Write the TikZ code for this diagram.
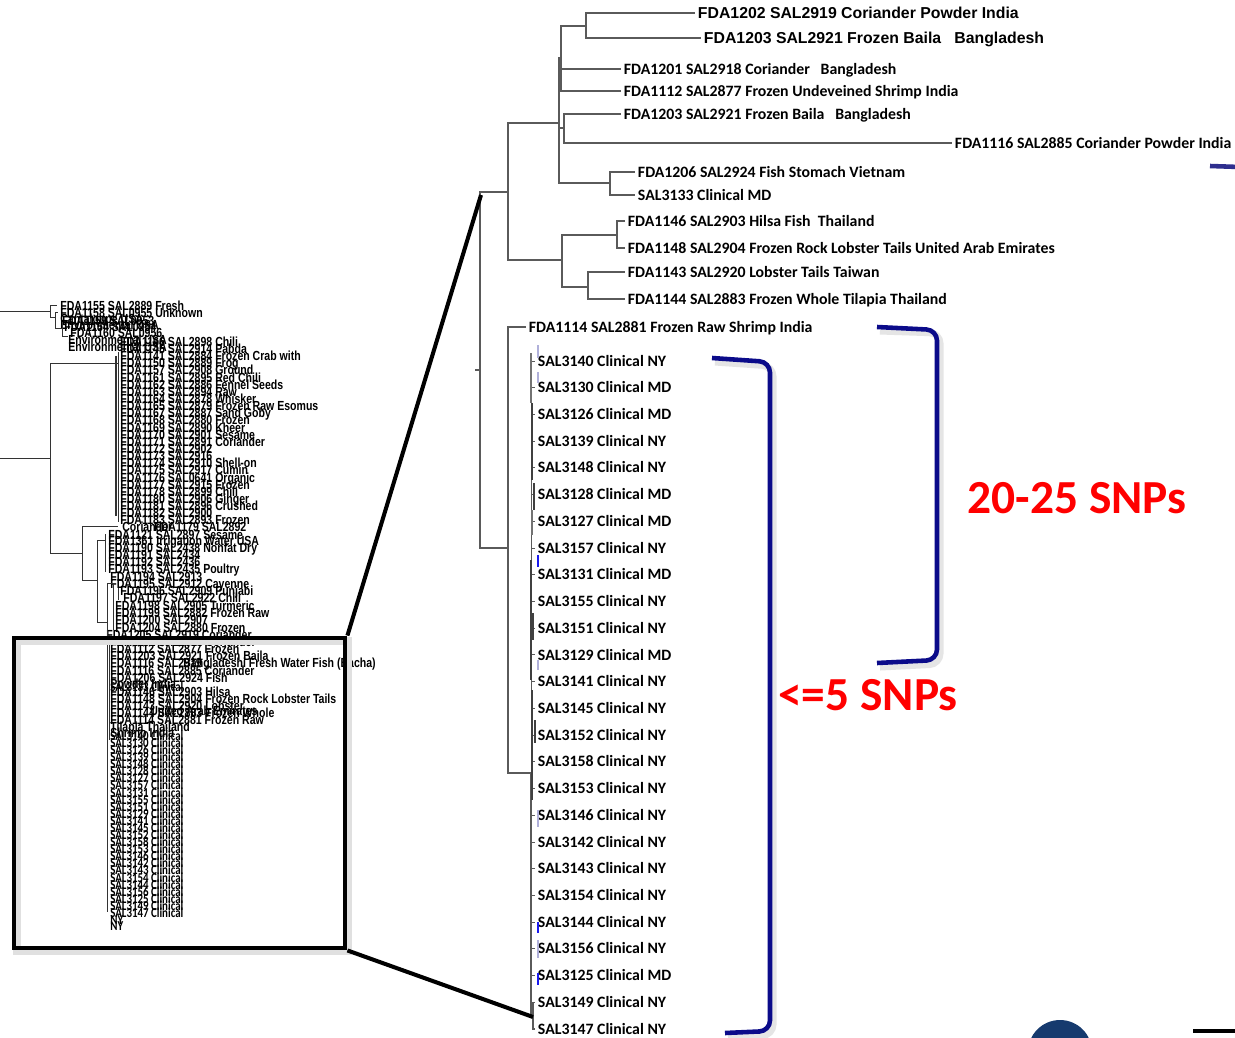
\documentclass[tikz,border=0pt]{standalone}
\usepackage{fontspec}
\setmainfont{Carlito}
\newfontfamily\arialfont{Liberation Sans}
\usepackage{xcolor}
\usepackage{tikz}
\usetikzlibrary{positioning,calc}
\definecolor{braceNavy}{HTML}{0B0B8A}
\definecolor{treeGray}{HTML}{5A5A5A}
\definecolor{tickBlue}{HTML}{1A1AF0}
\definecolor{tickPale}{HTML}{B0B0DA}
\definecolor{dotNavy}{HTML}{163A6E}
\definecolor{barNavy}{HTML}{2E2E8E}

\newcommand{\clinlist}{SAL3140/NY, SAL3130/MD, SAL3126/MD, SAL3139/NY, SAL3148/NY,
  SAL3128/MD, SAL3127/MD, SAL3157/NY, SAL3131/MD, SAL3155/NY, SAL3151/NY,
  SAL3129/MD, SAL3141/NY, SAL3145/NY, SAL3152/NY, SAL3158/NY, SAL3153/NY,
  SAL3146/NY, SAL3142/NY, SAL3143/NY, SAL3154/NY, SAL3144/NY, SAL3156/NY,
  SAL3125/MD, SAL3149/NY, SAL3147/NY}

\newcommand{\minilist}{%
  60/306/FDA1155 SAL2889 Fresh, 60/313/FDA1158 SAL0955 Unknown,
  60/319/Cantaloupe USA, 62/321/FDA1159 SAL0953, 60/325/Environmental USA,
  64/327/FDA1154 SAL0954, 70/333/FDA1160 SAL0956, 68/340/Environmental USA,
  120/342/FDA1166 SAL2898 Chili, 68/347/Environmental USA,
  120/349/FDA1145 SAL2914 Pabda, 120/356/FDA1141 SAL2884 Frozen Crab with,
  120/363/FDA1150 SAL2889 Frog, 120/370/FDA1157 SAL2908 Ground,
  120/378/FDA1161 SAL2895 Red Chili, 120/385/FDA1162 SAL2886 Fennel Seeds,
  120/392/FDA1163 SAL2894 Raw, 120/399/FDA1164 SAL2878 Whisker,
  120/406/FDA1165 SAL2879 Frozen Raw Esomus, 120/413/FDA1167 SAL2887 Sand Goby,
  120/420/FDA1168 SAL2880 Frozen, 120/428/FDA1169 SAL2890 Kheer,
  120/435/FDA1170 SAL2901 Sesame, 120/442/FDA1171 SAL2891 Coriander,
  120/449/FDA1172 SAL2902, 120/456/FDA1173 SAL2916,
  120/463/FDA1174 SAL2910 Shell-on, 120/470/FDA1175 SAL2917 Cumin,
  120/478/FDA1176 SAL0641 Organic, 120/485/FDA1177 SAL2915 Frozen,
  120/492/FDA1178 SAL2899 Chili, 120/499/FDA1180 SAL2906 Ginger,
  120/506/FDA1181 SAL2896 Crushed, 120/513/FDA1182 SAL2900,
  120/520/FDA1183 SAL2893 Frozen, 122/527/Coriander, 154/527/FDA1179 SAL2892,
  108/535/FDA1121 SAL2897 Sesame, 108/541/FDA1361 Irrigation Water USA,
  108/548/FDA1190 SAL2438 Nonfat Dry, 108/555/FDA1191 SAL2434,
  108/562/FDA1192 SAL2436, 108/569/FDA1193 SAL2435 Poultry,
  110/577/FDA1194 SAL2913, 110/584/FDA1195 SAL2912 Cayenne,
  120/591/FDA1196 SAL2909 Punjabi, 123/598/FDA1197 SAL2922 Chili,
  115/606/FDA1198 SAL2905 Turmeric, 115/613/FDA1199 SAL2882 Frozen Raw,
  115/620/FDA1200 SAL2907, 115/628/FDA1204 SAL2880 Frozen,
  106/635/FDA1205 SAL2919 Coriander, 110/642/FDA1201 SAL2918 Coriander,
  110/649/FDA1112 SAL2877 Frozen, 110/656/FDA1203 SAL2921 Frozen Baila,
  110/663/FDA1116 SAL2919, 183/663/Bangladeshi Fresh Water Fish (Bacha),
  110/671/FDA1116 SAL2885 Coriander, 110/678/FDA1206 SAL2924 Fish,
  110/684/Powder India, 110/692/FDA1146 SAL2903 Hilsa,
  110/699/FDA1148 SAL2904 Frozen Rock Lobster Tails,
  110/706/FDA1143 SAL2920 Lobster, 150/711/United Arab Emirates,
  110/713/FDA1144 SAL2883 Frozen Whole, 110/720/FDA1114 SAL2881 Frozen Raw,
  110/727/Tilapia Thailand, 110/733/Shrimp India}

\begin{document}
\begin{tikzpicture}[
  x=0.02cm, y=-0.02cm,
  leaf/.style={anchor=west, inner xsep=1.5pt, inner ysep=0pt, text height=5.8pt,
    text depth=0pt, font=\fontsize{9}{10}\selectfont\bfseries},
  arleaf/.style={leaf, text height=6.4pt, font=\arialfont\fontsize{9}{10}\selectfont\bfseries},
  mini/.style={anchor=west, inner sep=0pt, text height=5.4pt, text depth=0pt,
    font=\arialfont\fontsize{6}{6}\selectfont\bfseries},
  miniclin/.style={anchor=west, inner sep=0pt, text height=5pt, text depth=0pt,
    font=\fontsize{6.2}{6}\selectfont\bfseries},
  br/.style={draw=treeGray, line width=0.75pt},
  mline/.style={draw=black!80, line width=0.5pt},
  brace/.style={draw=braceNavy, line width=2.6pt, rounded corners=6pt},
  braceshadow/.style={draw=black!10, line width=4pt, rounded corners=6pt},
  snp/.style={text=red, inner sep=0pt, font=\fontsize{27}{30}\selectfont\bfseries},
  zoombox/.style={draw=black, line width=2.8pt, minimum width=6.62cm,
    minimum height=6.2cm, inner sep=0pt},
  zoomline/.style={draw=black, line width=2.3pt}
]
\useasboundingbox (0,0) rectangle (1235,1038);
\fill[white] (0,0) rectangle (1235,1038);

% thumbnail of the whole tree
\foreach \mx/\my/\mtext [count=\i] in \minilist
  \node[mini] (m\i) at (\mx,\my) {\scalebox{1}[1.25]{\mtext}};
\node[miniclin] (mclin) at (110,687) {\scalebox{1}[1.25]{SAL3133 Clinical}};
\foreach \s/\st [count=\i] in \clinlist
  \node[miniclin] (mc\i) at (110,{736+7.08*(\i-1)}) {\scalebox{1}[1.25]{\s\ Clinical}};
\node[miniclin] (mny1) at (110,920) {\scalebox{1}[1.25]{NY}};
\node[miniclin] (mny2) at (110,926) {\scalebox{1}[1.25]{NY}};

\draw[mline] (0,311) -- (50,311) (50,305) -- (50,317) (50,305) -- (57,305)
  (50,317) -- (55,317) (55,312) -- (55,328) (55,312) -- (58,312)
  (55,328) -- (62,328) (62,322) -- (62,336) (62,336) -- (68,336);
\draw[mline] (0,458) -- (50,458) (50,363) -- (50,553) (50,363) -- (118,363)
  (50,553) -- (82,553);
\draw[mline] (118,352) -- (118,522);
\draw[mline, line width=0.8pt] (116,356) -- (116,516);
\draw[mline] (82,526) -- (82,580) (82,526) -- (118,526) (82,580) -- (97,580);
\draw[mline] (97,540) -- (97,622) (97,540) -- (105,540) (105,534) -- (105,572)
  (97,622) -- (107,622);
\draw[mline] (107,583) -- (107,912) (107,583) -- (113,583) (113,583) -- (113,630)
  (118,588) -- (118,600) (109,635) -- (109,740);

\draw[draw=black!12, line width=4.5pt] (17,641) rectangle (348,951);
\node[zoombox] (zoomA) at (179.5,793) {};

% enlarged part of the tree
\node[arleaf] (t1) at (695,13) {FDA1202 SAL2919 Coriander Powder India};
\node[arleaf] (t2) at (701,38) {FDA1203 SAL2921 Frozen Baila\ \ \ Bangladesh};
\node[leaf] (t3) at (621,69) {FDA1201 SAL2918 Coriander\ \ \ Bangladesh};
\node[leaf] (t4) at (621,91) {FDA1112 SAL2877 Frozen Undeveined Shrimp India};
\node[leaf] (t5) at (621,114) {FDA1203 SAL2921 Frozen Baila\ \ \ Bangladesh};
\node[leaf] (t6) at (952,143) {FDA1116 SAL2885 Coriander Powder India};
\node[leaf] (t7) at (635,172) {FDA1206 SAL2924 Fish Stomach Vietnam};
\node[leaf] (t8) at (635,195) {SAL3133 Clinical MD};
\node[leaf] (t9) at (625,221) {FDA1146 SAL2903 Hilsa Fish\ \ Thailand};
\node[leaf] (t10) at (625,248) {FDA1148 SAL2904 Frozen Rock Lobster Tails United Arab Emirates};
\node[leaf] (t11) at (625,272) {FDA1143 SAL2920 Lobster Tails Taiwan};
\node[leaf] (t12) at (625,299) {FDA1144 SAL2883 Frozen Whole Tilapia Thailand};
\node[leaf] (t13) at (526,327) {FDA1114 SAL2881 Frozen Raw Shrimp India};
\foreach \s/\st [count=\i] in \clinlist
  \node[leaf] (c\i) at (535,{361+26.72*(\i-1)}) {\s\ Clinical \st};

\coordinate (nA) at (586,26);
\coordinate (nB) at (561,58);
\coordinate (nC) at (559,123);
\coordinate (nD) at (564,128);
\coordinate (nE) at (610,183);
\coordinate (nF) at (617,235);
\coordinate (nG) at (588,287);
\coordinate (nH) at (562,260);
\coordinate (nR) at (508,192);
\coordinate (nI) at (508,548);
\coordinate (nT) at (480,370);
\coordinate (nK) at (531,773);
\coordinate (nL) at (533,1017);
\coordinate (nTtop) at (481,195);

\draw[br] (nA) |- (t1.west);
\draw[br] (nA) |- (t2.west);
\draw[br] (nB) |- (nA);
\draw[br] (nB) |- (t3.west);
\draw[br] (nB) |- (t4.west);
\draw[br] (nD) |- (t5.west);
\draw[br] (nD) |- (t6.west);
\draw[br] (nE) |- (t7.west);
\draw[br] (nE) |- (t8.west);
\draw[br] (nC) |- (nB);
\draw[br] (nC) |- (nD);
\draw[br] (nC) |- (nE);
\draw[br] (nF) |- (t9.west);
\draw[br] (nF) |- (t10.west);
\draw[br] (nG) |- (t11.west);
\draw[br] (nG) |- (t12.west);
\draw[br] (nH) |- (nF);
\draw[br] (nH) |- (nG);
\draw[br] (nR) |- (nC);
\draw[br] (nR) |- (nH);
\draw[br] (nT) -- ++(-5,0);
\draw[br] (nT) |- (nR);
\draw[br] (nT) |- (nI);
\draw[br] (nI) |- (t13.west);
\draw[br] (nI) |- (nK);
\foreach \i in {1,...,24}
  \draw[br, line width=0.5pt] (nK) |- (c\i.west);
\draw[br] (nK) |- (nL);
\draw[br] (nL) |- (c25.west);
\draw[br] (nL) |- (c26.west);

\draw[black!75, line width=1.5pt] (532,403) -- (532,480) (534,483) -- (534,510)
  (531,560) -- (531,680) (533,613) -- (533,640) (532,690) -- (532,800)
  (535,720) -- (535,743);
\draw[black!55, line width=0.9pt] (531,353) -- (531,403) (532,510) -- (532,535);
\draw[tickBlue, line width=0.9pt] (538,555) -- (538,567) (538,922) -- (538,933)
  (538,973) -- (538,985);
\draw[tickPale, line width=0.6pt] (538,345) -- (538,358) (538,372) -- (538,383)
  (538,660) -- (538,670) (538,810) -- (538,827) (538,940) -- (538,958);

% zoom connectors
\draw[zoomline] (zoomA.north east) -- (nTtop);
\draw[zoomline] (zoomA.south east) -- (nL);

% brackets and SNP labels
\draw[braceshadow] (880,331) -- (940,333) -- (940,664) -- (880,667);
\draw[braceshadow] (715,362) -- (773,366) -- (773,1035) -- (728,1037);
\draw[brace] (877,327) -- (937,330) -- (937,660) -- (877,663);
\draw[brace] (712,358) -- (770,362) -- (770,1031) -- (725,1033);
\node[snp] (snpWide) at (1077,498) {20-25 SNPs};
\node[snp] (snpNarrow) at (868,695) {<=5 SNPs};

% pieces cut by the frame
\begin{scope}
  \clip (0,0) rectangle (1235,1038);
  \draw[barNavy, line width=2.6pt] (1210,166) -- (1240,167);
  \fill[dotNavy] (1060,1052) circle[radius=0.64cm];
  \draw[black, line width=2.6pt] (1193,1031) -- (1240,1031);
\end{scope}
\end{tikzpicture}
\end{document}
